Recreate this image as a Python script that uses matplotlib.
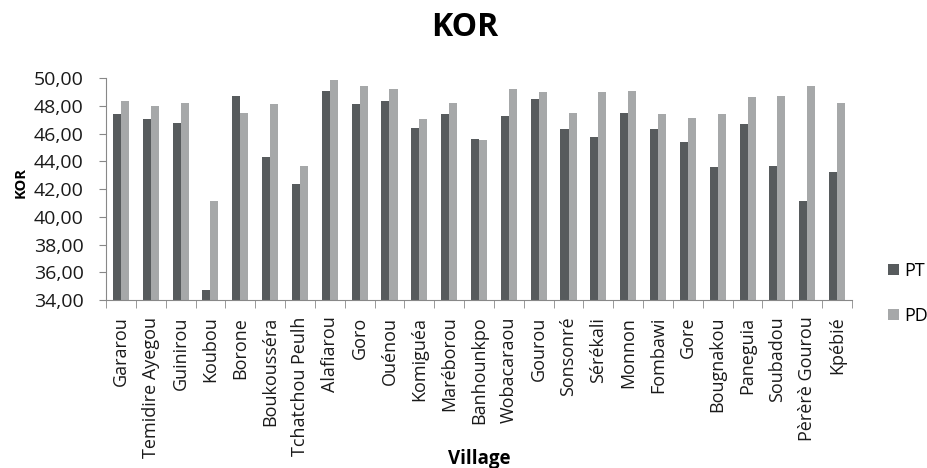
import numpy as np
import matplotlib.pyplot as plt
from matplotlib.ticker import FixedLocator, FuncFormatter

plt.rcParams['font.family'] = ['Open Sans', 'DejaVu Sans']

villages = ['Gararou', 'Temidire Ayegou', 'Guinirou', 'Koubou', 'Borone', 'Boukousséra',
            'Tchatchou Peulh', 'Alafiarou', 'Goro', 'Ouénou', 'Komiguéa', 'Maréborou',
            'Banhounkpo', 'Wobacaraou', 'Gourou', 'Sonsonré', 'Sérékali', 'Monnon',
            'Fombawi', 'Gore', 'Bougnakou', 'Paneguia', 'Soubadou', 'Pèrèrè Gourou', 'Kpébié']
pt = [47.39, 47.02, 46.78, 34.72, 48.72, 44.29, 42.38, 49.06, 48.11, 48.35, 46.42, 47.39,
      45.62, 47.27, 48.47, 46.30, 45.74, 47.51, 46.34, 45.38, 43.59, 46.71, 43.68, 41.16, 43.20]
pd_ = [48.35, 47.99, 48.23, 41.16, 47.51, 48.11, 43.68, 49.88, 49.44, 49.20, 47.02, 48.23,
       45.50, 49.20, 48.96, 47.51, 48.96, 49.08, 47.39, 47.14, 47.39, 48.60, 48.72, 49.44, 48.23]
yticks = np.arange(34, 51, 2)

fig = plt.figure(figsize=(9.28, 4.68), dpi=100)
ax = fig.add_axes([106/928, 1 - 300/468, 746/928, 222/468])

x = np.arange(len(villages))
w = 0.27
ax.bar(x - w/2, pt, w, color='#575b5d', label='PT')
ax.bar(x + w/2, pd_, w, color='#a6a8a9', label='PD')

ax.set_xlim(-0.5, len(villages) - 0.5)
ax.set_ylim(34, 50)
ax.set_yticks(yticks)
ax.yaxis.set_major_formatter(FuncFormatter(lambda v, p: f'{v:.2f}'.replace('.', ',')))
ax.set_xticks(x)
ax.set_xticklabels(villages, rotation=90, fontsize=13, color='#1a1a1a')
ax.xaxis.set_minor_locator(FixedLocator(np.arange(-0.5, len(villages), 1)))
ax.tick_params(axis='x', which='major', length=0, pad=12)
ax.tick_params(axis='x', which='minor', length=6, color='#888888', direction='out')
ax.tick_params(axis='y', length=5, color='#888888', labelsize=14, labelcolor='#1a1a1a', pad=11)

for s in ['top', 'right']:
    ax.spines[s].set_visible(False)
for s in ['left', 'bottom']:
    ax.spines[s].set_color('#888888')

fig.text(21/928, 1 - 182/468, 'KOR', ha='center', va='center', rotation=90,
         fontsize=10.5, fontweight='bold')
fig.text(479/928, 1 - 459/468, 'Village', ha='center', va='center', fontsize=13.5, fontweight='bold')
fig.text(465/928, 1 - 28/468, 'KOR', ha='center', va='center', fontsize=23, fontweight='bold')

fig.legend(loc='upper left', bbox_to_anchor=(888/928, 1 - 262/468), frameon=False, fontsize=13,
           handlelength=0.6, handleheight=0.6, labelspacing=1.5, handletextpad=0.3,
           borderpad=0, borderaxespad=0)

fig.savefig('out.png', dpi=100)
